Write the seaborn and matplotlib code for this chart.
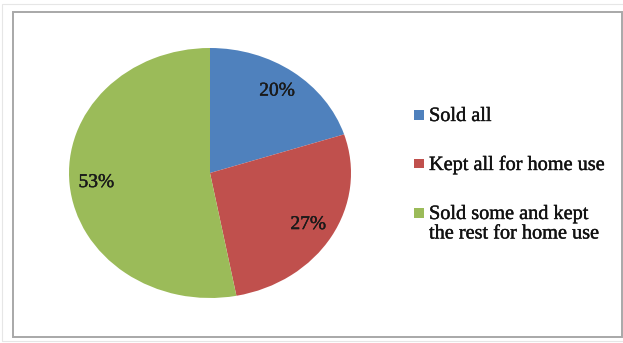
import matplotlib
matplotlib.use("Agg")
import matplotlib.pyplot as plt
import matplotlib.patheffects as pe
from matplotlib.patches import Rectangle
import seaborn as sns

# Data
categories = ["Sold all", "Kept all for home use", "Sold some and kept\nthe rest for home use"]
shares = [20, 27, 53]
colors = ["#4F81BD", "#C0504D", "#9BBB59"]

sns.set_theme(style="white")
plt.rcParams["font.family"] = ["Liberation Serif", "DejaVu Serif"]

W, H = 623, 343
fig = plt.figure(figsize=(W / 100, H / 100), dpi=100)
fig.patch.set_facecolor("white")

def fx(px):
    return px / W

def fy(py):
    return 1 - py / H

heavy = [pe.withStroke(linewidth=0.3, foreground="#1a1a1a")]

# Outer chart frames
fig.patches.append(Rectangle((fx(2.5), fy(341)), fx(640), 337.5 / H, transform=fig.transFigure,
                             fill=False, edgecolor="#e6e6e6", linewidth=0.8, zorder=0))
fig.patches.append(Rectangle((fx(12.5), fy(336.5)), fx(609.8), 325 / H, transform=fig.transFigure,
                             fill=False, edgecolor="#a8a8a8", linewidth=1.4, zorder=1))

# Pie axes (slightly wider than tall)
cx, cy, rx, ry = 210, 173, 141, 125
ax = fig.add_axes([fx(cx - rx), fy(cy + ry), 2 * rx / W, 2 * ry / H])
palette = sns.color_palette(colors)
wedges, texts, autotexts = ax.pie(
    shares, colors=palette, startangle=90, counterclock=False,
    autopct=lambda p: f"{p:.0f}%", pctdistance=0.81,
    wedgeprops=dict(linewidth=0), textprops=dict(fontsize=14, color="#1a1a1a"),
)
for t in autotexts:
    t.set_path_effects(heavy)
ax.set_aspect("auto")
ax.set_xlim(-1, 1)
ax.set_ylim(-1, 1)
ax.axis("off")

# Legend
baselines = [121, 170, 219]
line_gap = 19.5
for label, col, base in zip(categories, colors, baselines):
    fig.patches.append(Rectangle((fx(414), fy(base - 1.5)), fx(10), 9.5 / H, transform=fig.transFigure,
                                 facecolor=col, edgecolor="none"))
    for i, line in enumerate(label.split("\n")):
        fig.text(fx(429), fy(base + i * line_gap), line, fontsize=14.6, color="#111111",
                 ha="left", va="baseline", path_effects=heavy)

fig.savefig("out.png", dpi=100, facecolor="white")
